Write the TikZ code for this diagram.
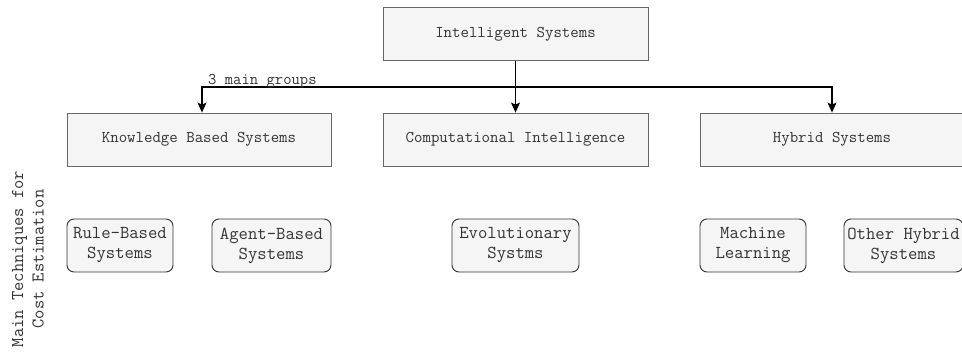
\documentclass[tikz,border=0pt]{standalone}
\usepackage{fontspec}
\usetikzlibrary{arrows.meta}
\definecolor{boxfill}{HTML}{F5F5F5}
\definecolor{boxline}{HTML}{666666}
\definecolor{txt}{HTML}{333333}
\begin{document}
\begin{tikzpicture}[x=1pt,y=-1pt,
  groupbox/.style={draw=boxline,fill=boxfill,line width=0.9pt,minimum height=53pt,
    inner sep=0pt,text=txt,font=\ttfamily\fontsize{16.4}{18}\selectfont},
  techbox/.style={draw=txt,fill=boxfill,line width=0.9pt,rounded corners=7pt,
    minimum height=53pt,inner sep=0pt,align=center,text=txt,
    font=\ttfamily\fontsize{18.2}{20}\selectfont},
  link/.style={draw=black,line width=1.1pt},
  tip/.style={-{Stealth[length=10pt,width=9pt,inset=2pt]}}]
\useasboundingbox (0,0) rectangle (962,354);

% root and the three main groups
\node[groupbox,minimum width=265pt] (root) at (515.5,34) {Intelligent Systems};
\node[groupbox,minimum width=264pt] (kbs) at (199,139.5) {Knowledge Based Systems};
\node[groupbox,minimum width=265pt] (ci) at (515.5,139.5) {Computational Intelligence};
\node[groupbox,minimum width=264pt] (hyb) at (832,139.5) {Hybrid Systems};

% techniques under each group
\node[techbox,minimum width=106pt] (rule) at (120,245.5) {Rule-Based\\Systems};
\node[techbox,minimum width=119pt] (agent) at (271.5,245.5) {Agent-Based\\Systems};
\node[techbox,minimum width=127pt] (evo) at (515.5,245.5) {Evolutionary\\Systms};
\node[techbox,minimum width=106pt] (ml) at (753,245.5) {Machine\\Learning};
\node[techbox,minimum width=119pt] (oth) at (903.5,245.5) {Other Hybrid\\Systems};

% side caption
\node[rotate=90,align=center,text=txt,font=\ttfamily\fontsize{18}{20.5}\selectfont,inner sep=0pt]
  (cap) at (28,259) {Main Techniques for\\Cost Estimation};

% connectors
\coordinate (split) at (515.5,87);
\draw[link,tip] (root.south) -- (ci.north);
\draw[link,tip] (split) -| ([xshift=3pt]kbs.north);
\draw[link,tip] (split) -| (hyb.north);
\node[anchor=base west,inner sep=0pt,text=txt,font=\ttfamily\fontsize{16.2}{18}\selectfont]
  (lbl) at (208,84) {3 main groups};
\end{tikzpicture}
\end{document}
